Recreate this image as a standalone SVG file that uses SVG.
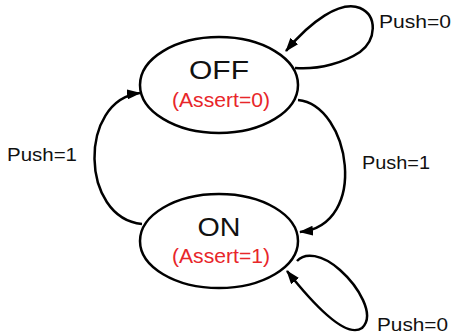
<svg xmlns="http://www.w3.org/2000/svg" width="452" height="335" viewBox="0 0 452 335">
<style>
.st{fill:#fff;stroke:#000;stroke-width:2.5}
.ed{fill:none;stroke:#000;stroke-width:2.5}
.t{font-family:"Liberation Sans",Arial,sans-serif;fill:#111}
.big{font-size:25px}
.red{font-size:19.5px;fill:#e8262a}
.lbl{font-size:18px}
</style>
<defs>
<marker id="ah" markerUnits="userSpaceOnUse" markerWidth="14" markerHeight="10" refX="13" refY="5" orient="auto">
<path d="M0,0 L14,5 L0,10 z" fill="#000"/>
</marker>
</defs>
<rect width="452" height="335" fill="#fff"/>
<g id="edges">
<path class="ed" marker-end="url(#ah)" d="M295,68 C320,70 345,62 360,52 C376,40 378,16 360,8 C340,0 310,22 286,51"/>
<path class="ed" marker-end="url(#ah)" d="M298,100 C350,105 370,225 300,232"/>
<path class="ed" marker-end="url(#ah)" d="M142,224 C80,218 78,100 140,93"/>
<path class="ed" marker-end="url(#ah)" d="M297,261 C305,252 322,254 340,270 C358,286 376,315 362,328 C345,340 310,300 287,271"/>
</g>
<g id="off">
<ellipse class="st" cx="219" cy="85" rx="79" ry="48"/>
<text class="t big" x="219" y="79" text-anchor="middle" textLength="60" lengthAdjust="spacingAndGlyphs">OFF</text>
<text class="t red" x="221" y="107" text-anchor="middle" textLength="98" lengthAdjust="spacingAndGlyphs">(Assert=0)</text>
</g>
<g id="on">
<ellipse class="st" cx="219" cy="241" rx="79" ry="47"/>
<text class="t big" x="219" y="236" text-anchor="middle" textLength="43" lengthAdjust="spacingAndGlyphs">ON</text>
<text class="t red" x="221" y="263" text-anchor="middle" textLength="98" lengthAdjust="spacingAndGlyphs">(Assert=1)</text>
</g>
<g id="labels">
<text class="t lbl" x="379" y="28" textLength="72" lengthAdjust="spacingAndGlyphs">Push=0</text>
<text class="t lbl" x="7" y="161" textLength="70" lengthAdjust="spacingAndGlyphs">Push=1</text>
<text class="t lbl" x="362" y="169" textLength="68" lengthAdjust="spacingAndGlyphs">Push=1</text>
<text class="t lbl" x="377" y="331" textLength="71" lengthAdjust="spacingAndGlyphs">Push=0</text>
</g>
</svg>
